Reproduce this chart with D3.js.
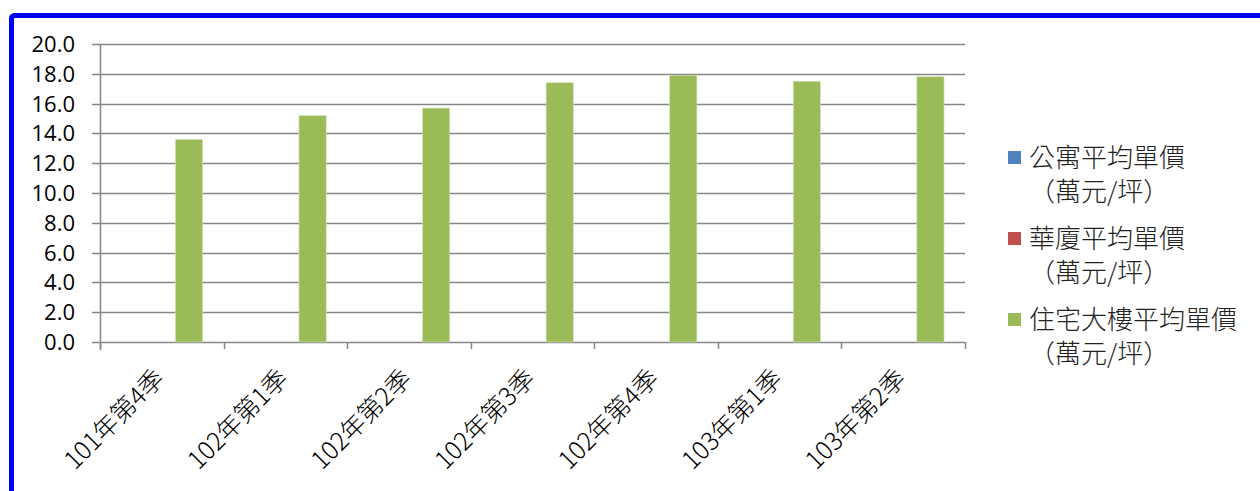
<!DOCTYPE html>
<html>
<head>
<meta charset="utf-8">
<script src="https://cdn.jsdelivr.net/npm/d3@7"></script>
<style>
  body { margin: 0; background: #fff; }
  svg { display: block; }
</style>
</head>
<body>
<svg id="chart" width="1260" height="491"></svg>
<script>
const categories = ["101年第4季", "102年第1季", "102年第2季", "102年第3季", "102年第4季", "103年第1季", "103年第2季"];
const seriesNames = ["公寓平均單價", "華廈平均單價", "住宅大樓平均單價"];
const seriesUnit = "（萬元/坪）";
const seriesColors = ["#4F81BD", "#C0504D", "#9BBB59"];
// only the 住宅大樓 series has values in the picture
const apartmentValues = [null, null, null, null, null, null, null];
const mansionValues = [null, null, null, null, null, null, null];
const buildingValues = [13.6, 15.2, 15.7, 17.4, 17.9, 17.5, 17.8];
const yTicks = [0, 2, 4, 6, 8, 10, 12, 14, 16, 18, 20];

const series = [apartmentValues, mansionValues, buildingValues];

const svg = d3.select("#chart");

// blue frame, only the top and left edges are inside the picture
svg.append("rect")
  .attr("x", 11.5).attr("y", 15.5)
  .attr("width", 1300).attr("height", 600)
  .attr("rx", 3)
  .attr("fill", "none")
  .attr("stroke", "#0000FF")
  .attr("stroke-width", 5);

const plotL = 100, plotR = 965, plotT = 44, plotB = 342;

const x = d3.scaleBand().domain(categories).range([plotL, plotR]);
const xs = d3.scaleBand().domain(d3.range(series.length))
  .range([0, x.bandwidth()]).paddingInner(0).paddingOuter(0.77);
const y = d3.scaleLinear().domain([0, 20]).range([plotB, plotT]);

const grid = "#868686";

// gridlines + y ticks
svg.append("g").selectAll("line").data(yTicks).join("line")
  .attr("x1", plotL - 8).attr("x2", plotR)
  .attr("y1", d => Math.round(y(d)) + 0.5).attr("y2", d => Math.round(y(d)) + 0.5)
  .attr("stroke", grid).attr("stroke-width", 1.5);

svg.append("g").selectAll("text").data(yTicks).join("text")
  .attr("x", 75).attr("y", d => y(d))
  .attr("dy", "0.36em")
  .attr("text-anchor", "end")
  .attr("font-family", "'Open Sans', sans-serif")
  .attr("font-size", 22)
  .attr("fill", "#000")
  .text(d => d3.format(".1f")(d));

// y axis line
svg.append("line")
  .attr("x1", plotL + 0.5).attr("x2", plotL + 0.5)
  .attr("y1", plotT).attr("y2", plotB + 8)
  .attr("stroke", grid).attr("stroke-width", 1.5);

// x tick marks at category boundaries
const bounds = categories.map(c => x(c)).concat([plotR]);
svg.append("g").selectAll("line").data(bounds).join("line")
  .attr("x1", d => Math.round(d) + 0.5).attr("x2", d => Math.round(d) + 0.5)
  .attr("y1", plotB).attr("y2", plotB + 7)
  .attr("stroke", grid).attr("stroke-width", 1.5);

// bars
series.forEach((vals, si) => {
  svg.append("g").selectAll("rect")
    .data(vals.map((v, i) => ({ c: categories[i], v })).filter(d => d.v != null))
    .join("rect")
    .attr("x", d => x(d.c) + xs(si))
    .attr("width", xs.bandwidth())
    .attr("y", d => y(d.v))
    .attr("height", d => y(0) - y(d.v))
    .attr("fill", seriesColors[si])
    .attr("stroke", "#D7E4BD")
    .attr("stroke-width", 0.6);
});

// x labels rotated
svg.append("g").selectAll("text").data(categories).join("text")
  .attr("transform", d => `translate(${x(d) + x.bandwidth() / 2 + 4},${plotB + 38}) rotate(-45)`)
  .attr("text-anchor", "end")
  .attr("font-family", "'Noto Sans CJK TC', sans-serif")
  .attr("font-weight", 300)
  .attr("font-size", 25)
  .attr("fill", "#000")
  .text(d => d);

// legend
const legend = svg.append("g");
seriesNames.forEach((name, i) => {
  const gy = 158 + i * 81;
  legend.append("rect")
    .attr("x", 1008).attr("y", gy - 7)
    .attr("width", 13).attr("height", 13)
    .attr("fill", seriesColors[i]);
  legend.append("text")
    .attr("x", 1029).attr("y", gy).attr("dy", "0.36em")
    .attr("font-family", "'Noto Sans CJK TC', sans-serif")
    .attr("font-weight", 300)
    .attr("font-size", 26)
    .attr("fill", "#222")
    .text(name);
  legend.append("text")
    .attr("x", 1029).attr("y", gy + 34).attr("dy", "0.36em")
    .attr("font-family", "'Noto Sans CJK TC', sans-serif")
    .attr("font-weight", 300)
    .attr("font-size", 26)
    .attr("fill", "#222")
    .text(seriesUnit);
});
</script>
</body>
</html>
